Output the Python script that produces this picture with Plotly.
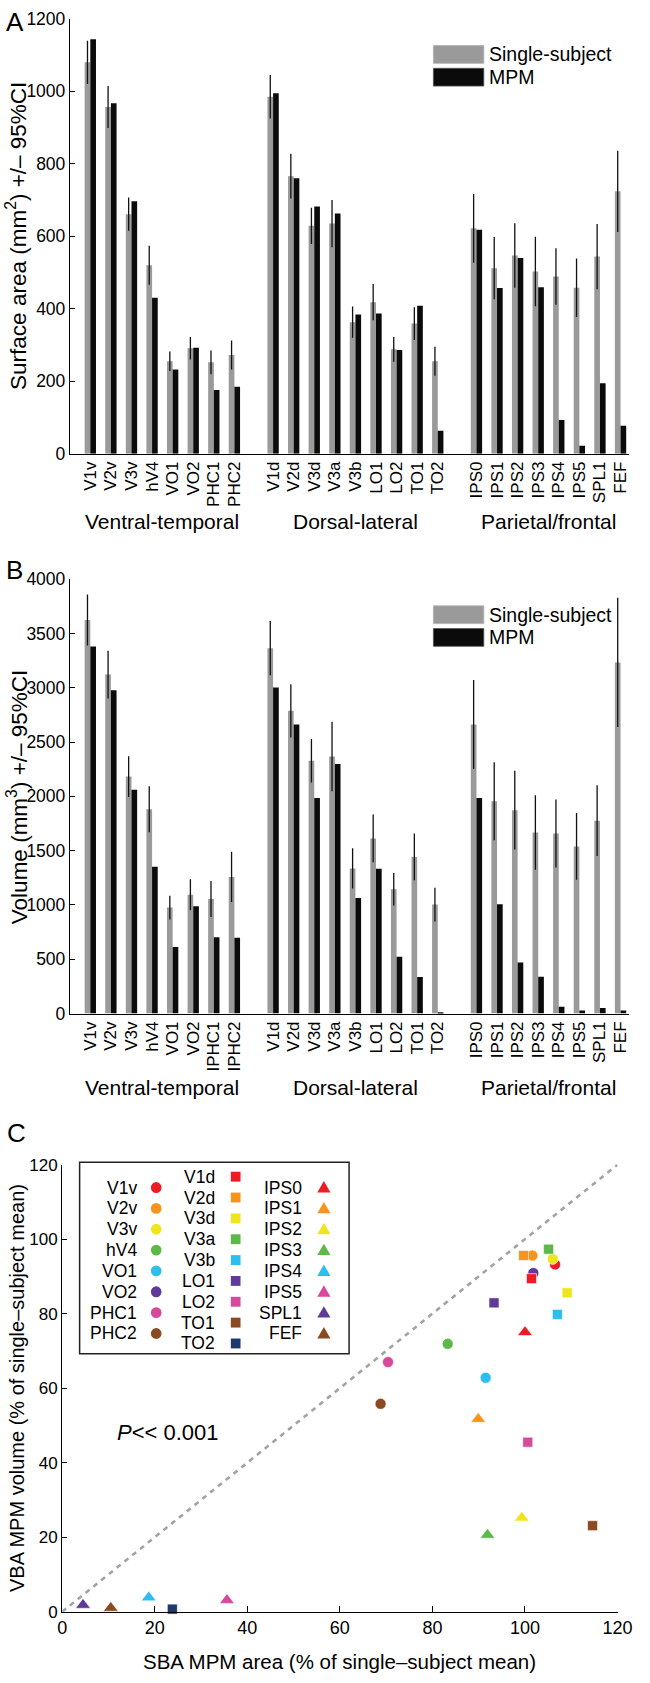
import plotly.graph_objects as go

W, H = 650, 1683
FONT = "Liberation Sans, Arial, Helvetica, sans-serif"

# ---------------- data ----------------
labels_area = ["V1v", "V2v", "V3v", "hV4", "VO1", "VO2", "PHC1", "PHC2",
               "V1d", "V2d", "V3d", "V3a", "V3b", "LO1", "LO2", "TO1", "TO2",
               "IPS0", "IPS1", "IPS2", "IPS3", "IPS4", "IPS5", "SPL1", "FEF"]
labels_vol = ["V1v", "V2v", "V3v", "hV4", "VO1", "VO2", "IPHC1", "IPHC2",
              "V1d", "V2d", "V3d", "V3a", "V3b", "LO1", "LO2", "TO1", "TO2",
              "IPS0", "IPS1", "IPS2", "IPS3", "IPS4", "IPS5", "SPL1", "FEF"]
group_names = ["Ventral-temporal", "Dorsal-lateral", "Parietal/frontal"]
group_sizes = [8, 9, 8]

area_single = [1080, 957, 661, 520, 255, 291, 252, 272,
               985, 766, 629, 635, 363, 418, 288, 359, 255,
               622, 512, 547, 503, 489, 458, 544, 724]
area_ci = [60, 58, 46, 54, 27, 31, 33, 40,
           60, 62, 50, 65, 43, 50, 34, 45, 40,
           95, 86, 89, 96, 78, 81, 90, 112]
area_mpm = [1144, 967, 697, 430, 232, 292, 176, 185,
            995, 760, 682, 663, 384, 387, 286, 408, 63,
            618, 457, 540, 459, 93, 22, 194, 77]

vol_single = [3624, 3121, 2182, 1882, 976, 1094, 1055, 1258,
              3364, 2788, 2327, 2367, 1336, 1612, 1145, 1442, 1003,
              2661, 1955, 1873, 1667, 1658, 1539, 1776, 3233]
vol_ci = [235, 220, 188, 212, 109, 143, 166, 232,
          250, 245, 200, 320, 185, 220, 150, 215, 155,
          410, 360, 363, 344, 313, 308, 326, 595]
vol_mpm = [3379, 2976, 2061, 1352, 612, 988, 703, 697,
           3003, 2661, 1985, 2297, 1064, 1333, 524, 336, 10,
           1985, 1006, 470, 339, 62, 28, 52, 28]

# Panel C: SBA MPM area (% of single-subject mean) vs VBA MPM volume (%)
circle_rois = ["V1v", "V2v", "V3v", "hV4", "VO1", "VO2", "PHC1", "PHC2"]
circle_x = [106.5, 101.6, 106.0, 83.3, 91.5, 101.8, 70.4, 68.8]
circle_y = [93.2, 95.6, 94.7, 71.9, 62.8, 90.9, 67.0, 55.8]

square_rois = ["V1d", "V2d", "V3d", "V3a", "V3b", "LO1", "LO2", "TO1", "TO2"]
square_x = [101.4, 99.7, 109.1, 105.1, 107.0, 93.3, 100.6, 114.6, 23.8]
square_y = [89.4, 95.6, 85.6, 97.3, 79.8, 82.9, 45.5, 23.1, 0.7]

triangle_rois = ["IPS0", "IPS1", "IPS2", "IPS3", "IPS4", "IPS5", "SPL1", "FEF"]
triangle_x = [100.0, 89.9, 99.3, 91.9, 18.7, 35.6, 4.5, 10.5]
triangle_y = [75.0, 51.7, 25.2, 20.6, 3.8, 3.1, 1.8, 1.0]

RED, ORANGE, YELLOW, GREEN = "#ec1c24", "#f7941d", "#efe51c", "#5db946"
CYAN, PURPLE, PINK, BROWN, NAVY = "#2dbdef", "#5f3a98", "#d9499b", "#8b4a22", "#1e3a6c"
circle_colors = [RED, ORANGE, YELLOW, GREEN, CYAN, PURPLE, PINK, BROWN]
square_colors = [RED, ORANGE, YELLOW, GREEN, CYAN, PURPLE, PINK, BROWN, NAVY]
triangle_colors = [RED, ORANGE, YELLOW, GREEN, CYAN, PINK, PURPLE, BROWN]

c_ticks = [0, 20, 40, 60, 80, 100, 120]
area_ticks = [0, 200, 400, 600, 800, 1000, 1200]
vol_ticks = [0, 500, 1000, 1500, 2000, 2500, 3000, 3500, 4000]

# ---------------- helpers ----------------
def fx(p):
    return p / W

def fy(p):
    return 1 - p / H

GRAY = "#9a9a9a"
BLACK = "#0b0b0b"

gap = 1.88
pos = []
start = 0.0
group_centers = []
for n in group_sizes:
    grp = [start + i for i in range(n)]
    pos += grp
    group_centers.append((grp[0] + grp[-1]) / 2)
    start = grp[-1] + gap

half = 0.1375
bw = 0.275
x_gray = [p - half for p in pos]
x_black = [p + half for p in pos]
xr = [-0.99, pos[-1] + 0.42]

fig = go.Figure()

def add_bars(ys, ci, ym, xa, ya):
    fig.add_trace(go.Bar(x=x_gray, y=ys, width=bw, marker=dict(color=GRAY, line=dict(width=0)),
                         error_y=dict(type="data", array=ci, visible=True, color="#111111",
                                      thickness=1.3, width=0),
                         xaxis=xa, yaxis=ya, showlegend=False))
    fig.add_trace(go.Bar(x=x_black, y=ym, width=bw, marker=dict(color=BLACK, line=dict(width=0)),
                         xaxis=xa, yaxis=ya, showlegend=False))

add_bars(area_single, area_ci, area_mpm, "x", "y")
add_bars(vol_single, vol_ci, vol_mpm, "x2", "y2")

# Panel C identity line
fig.add_trace(go.Scatter(x=[c_ticks[0], c_ticks[-1]], y=[c_ticks[0], c_ticks[-1]], mode="lines",
                         line=dict(color="#a3a3a3", width=2.6, dash="5px,5px"),
                         xaxis="x3", yaxis="y3", showlegend=False, hoverinfo="skip"))

for xs, ys, cols, sym, sz in [(circle_x, circle_y, circle_colors, "circle", 11),
                              (square_x, square_y, square_colors, "square", 10),
                              (triangle_x, triangle_y, triangle_colors, "triangle-up", 13)]:
    fig.add_trace(go.Scatter(x=xs, y=ys, mode="markers",
                             marker=dict(symbol=sym, size=sz, color=cols,
                                         line=dict(width=0.6, color="white")),
                             cliponaxis=False, xaxis="x3", yaxis="y3", showlegend=False))

shapes = []
annotations = []

# Panel C legend: markers drawn as shapes, labels as annotations
row_h = 21.1
col1_y = [1191.7 + row_h * i for i in range(len(circle_rois))]
col2_y = [1180.7 + row_h * i for i in range(len(square_rois))]
col3_y = [1191.7 + row_h * i for i in range(len(triangle_rois))]
leg_cols = [(circle_rois, circle_colors, "circle", col1_y, 138, 156),
            (square_rois, square_colors, "square", col2_y, 219, 238),
            (triangle_rois, triangle_colors, "triangle", col3_y, 309, 329)]
for rois, cols, kind, ys, tx, mx in leg_cols:
    for r, c, yy in zip(rois, cols, ys):
        if kind == "circle":
            shapes.append(dict(type="circle", xref="paper", yref="paper",
                               x0=fx(mx - 5.5), x1=fx(mx + 5.5), y0=fy(yy + 5.5), y1=fy(yy - 5.5),
                               fillcolor=c, line=dict(width=0)))
        elif kind == "square":
            shapes.append(dict(type="rect", xref="paper", yref="paper",
                               x0=fx(mx - 5), x1=fx(mx + 5), y0=fy(yy + 5), y1=fy(yy - 5),
                               fillcolor=c, line=dict(width=0)))
        else:
            path = "M %f,%f L %f,%f L %f,%f Z" % (fx(mx - 6.8), fy(yy + 5), fx(mx + 6.8), fy(yy + 5),
                                                fx(mx), fy(yy - 6.5))
            shapes.append(dict(type="path", xref="paper", yref="paper", path=path,
                               fillcolor=c, line=dict(width=0)))
        annotations.append(dict(x=fx(tx), y=fy(yy), xref="paper", yref="paper", text=r,
                                showarrow=False, xanchor="right", yanchor="middle",
                                font=dict(size=17.5, color="black", family=FONT)))

# ---------------- layout ----------------
def axis_style(size):
    return dict(showgrid=False, zeroline=False, showline=True, linecolor="black",
                linewidth=1.2, tickcolor="black", tickwidth=1.1,
                tickfont=dict(size=size, color="black", family=FONT))

xdomAB = [fx(67), fx(644)]
layout = dict(
    width=W, height=H, margin=dict(l=0, r=0, t=0, b=0),
    paper_bgcolor="white", plot_bgcolor="white", barmode="overlay",
    font=dict(family=FONT, color="black"),
    showlegend=False,
    xaxis=dict(domain=xdomAB, range=xr, anchor="y", tickmode="array", tickvals=pos,
               ticktext=labels_area, tickangle=-90, ticks="", **axis_style(17)),
    yaxis=dict(domain=[fy(449), fy(9)], range=[0, 1200], anchor="x", tickmode="array",
               tickvals=area_ticks, ticks="inside", ticklen=5, **axis_style(17.5)),
    xaxis2=dict(domain=xdomAB, range=xr, anchor="y2", tickmode="array", tickvals=pos,
                ticktext=labels_vol, tickangle=-90, ticks="", **axis_style(17)),
    yaxis2=dict(domain=[fy(1015.6), fy(576)], range=[0, 4000], anchor="x2", tickmode="array",
                tickvals=vol_ticks, ticks="inside", ticklen=5, **axis_style(17.5)),
    xaxis3=dict(domain=[fx(59), fx(632)], range=[0, 120], anchor="y3", tickmode="array",
                tickvals=c_ticks, ticks="inside", ticklen=6, **axis_style(18)),
    yaxis3=dict(domain=[fy(1621), fy(1168.5)], range=[0, 120], anchor="x3", tickmode="array",
                tickvals=c_ticks, ticks="inside", ticklen=5, **axis_style(17)),
)

# legend boxes for panels A and B
for off in [0, 567]:
    shapes.append(dict(type="rect", xref="paper", yref="paper", x0=fx(442), x1=fx(494),
                       y0=fy(54 + off), y1=fy(36 + off), fillcolor=GRAY,
                       line=dict(color="#b0b0b0", width=0.8)))
    shapes.append(dict(type="rect", xref="paper", yref="paper", x0=fx(442), x1=fx(494),
                       y0=fy(77 + off), y1=fy(59 + off), fillcolor=BLACK,
                       line=dict(color="#555555", width=0.8)))
    annotations.append(dict(x=fx(497), y=fy(45 + off), xref="paper", yref="paper",
                            text="Single-subject", showarrow=False, xanchor="left",
                            yanchor="middle", font=dict(size=19.5, family=FONT, color="black")))
    annotations.append(dict(x=fx(497), y=fy(68 + off), xref="paper", yref="paper",
                            text="MPM", showarrow=False, xanchor="left",
                            yanchor="middle", font=dict(size=19.5, family=FONT, color="black")))
# legend frame panel C
shapes.append(dict(type="rect", xref="paper", yref="paper", x0=fx(77), x1=fx(355),
                   y0=fy(1360), y1=fy(1166), fillcolor="rgba(0,0,0,0)",
                   line=dict(color="#222222", width=1.5)))

# group labels
for xa, yp in [("x", 517.5), ("x2", 1090)]:
    for name, c in zip(group_names, group_centers):
        annotations.append(dict(x=c, y=fy(yp), xref=xa, yref="paper", text=name,
                                showarrow=False, xanchor="center", yanchor="middle",
                                font=dict(size=21, family=FONT, color="black")))

# panel letters
for letter, xp, yp in [("A", 10, 12), ("B", 10, 567), ("C", 12, 1136)]:
    annotations.append(dict(x=fx(xp), y=fy(yp), xref="paper", yref="paper", text=letter,
                            showarrow=False, xanchor="center", yanchor="middle",
                            font=dict(size=26, family=FONT, color="black")))

# axis titles
annotations += [
    dict(x=fx(12), y=fy(229), xref="paper", yref="paper",
         text="Surface area (mm<sup>2</sup>) +/\u2013 95%CI", textangle=-90, showarrow=False,
         xanchor="center", yanchor="middle", font=dict(size=22.5, family=FONT, color="black")),
    dict(x=fx(12), y=fy(797), xref="paper", yref="paper",
         text="Volume (mm<sup>3</sup>) +/\u2013 95%CI", textangle=-90, showarrow=False,
         xanchor="center", yanchor="middle", font=dict(size=22.5, family=FONT, color="black")),
    dict(x=fx(13), y=fy(1395), xref="paper", yref="paper",
         text="VBA MPM volume (% of single\u2013subject mean)", textangle=-90, showarrow=False,
         xanchor="center", yanchor="middle", font=dict(size=20, family=FONT, color="black")),
    dict(x=fx(345), y=fy(1671), xref="paper", yref="paper",
         text="SBA MPM area (% of single\u2013subject mean)", showarrow=False,
         xanchor="center", yanchor="middle", font=dict(size=20.5, family=FONT, color="black")),
    dict(x=fx(168), y=fy(1440), xref="paper", yref="paper",
         text="<i>P</i>&lt;&lt; 0.001", showarrow=False,
         xanchor="center", yanchor="middle", font=dict(size=22, family=FONT, color="black")),
]

layout["shapes"] = shapes
layout["annotations"] = annotations
fig.update_layout(**layout)

fig.write_html("out.html", config={"displayModeBar": False},
               post_script="document.body.style.margin='0';")
